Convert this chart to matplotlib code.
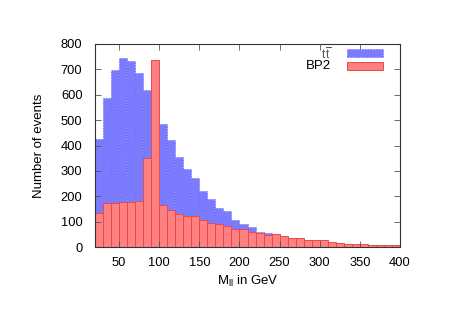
import matplotlib
matplotlib.use("Agg")
import matplotlib.pyplot as plt
import numpy as np

plt.rcParams['font.family'] = ['Liberation Sans', 'DejaVu Sans']
plt.rcParams['mathtext.fontset'] = 'custom'
plt.rcParams['mathtext.rm'] = 'Liberation Sans'
plt.rcParams['mathtext.it'] = 'Liberation Sans'

bin_edges = list(range(20, 401, 10))
ttbar = [425, 587, 699, 744, 733, 685, 618, 560, 484, 423, 355, 307, 271, 221,
         190, 153, 141, 105, 91, 78, 60, 55, 45, 38, 30, 25, 20, 16, 12, 10,
         8, 6, 5, 4, 3, 3, 2, 2]
bp2 = [133, 172, 175, 178, 178, 182, 352, 737, 165, 146, 132, 122, 122, 106,
       93, 89, 84, 72, 69, 60, 56, 48, 51, 43, 37, 34, 27, 29, 26, 20,
       16, 12, 12, 12, 8, 8, 8, 8]
x_ticks = [50, 100, 150, 200, 250, 300, 350, 400]
y_ticks = [0, 100, 200, 300, 400, 500, 600, 700, 800]

fig = plt.figure(figsize=(4.65, 3.29), dpi=100)
ax = fig.add_axes([95/465, (329-247)/329, 305/465, 203/329])

left = np.array(bin_edges[:-1])
ax.bar(left, ttbar, width=10, align='edge', color='#7b7bff',
       edgecolor='#6060ec', linestyle=(0, (2, 2)), linewidth=0.5)
ax.bar(left, bp2, width=10, align='edge', color='#ff8080',
       edgecolor='#e84a4a', linewidth=0.7)

ax.set_xlim(20, 400)
ax.set_ylim(0, 800)
ax.set_xticks(x_ticks)
ax.set_yticks(y_ticks)
ax.tick_params(direction='in', top=True, right=True, length=4, width=0.6,
               color='#555555', labelsize=9.3)
ax.tick_params(axis='y', pad=9)
ax.tick_params(axis='x', pad=7)
for s in ax.spines.values():
    s.set_color('#333333')
    s.set_linewidth(0.8)

ax.set_xlabel(r'M$_{\mathrm{ll}}$ in GeV', fontsize=9.5, labelpad=4)
ax.set_ylabel('Number of events', fontsize=9.5, labelpad=11)

# legend (gnuplot style)
tr = ax.transAxes
ax.add_patch(plt.Rectangle((0.826, 0.936), 0.118, 0.039, transform=tr,
                           facecolor='#7b7bff', edgecolor='#6060ec',
                           linestyle=(0, (2, 2)), linewidth=0.5, zorder=5))
ax.add_patch(plt.Rectangle((0.826, 0.872), 0.118, 0.039, transform=tr,
                           facecolor='#ff8080', edgecolor='#e84a4a',
                           linewidth=0.7, zorder=5))
ax.text(0.775, 0.952, r'$\mathrm{t}\,\overline{\mathrm{t}}$', transform=tr,
        ha='right', va='center', fontsize=8.5, color='#555555', zorder=5)
ax.text(0.775, 0.89, 'BP2', transform=tr, ha='right', va='center',
        fontsize=9.5, zorder=5)

fig.savefig('out.png', dpi=100)
